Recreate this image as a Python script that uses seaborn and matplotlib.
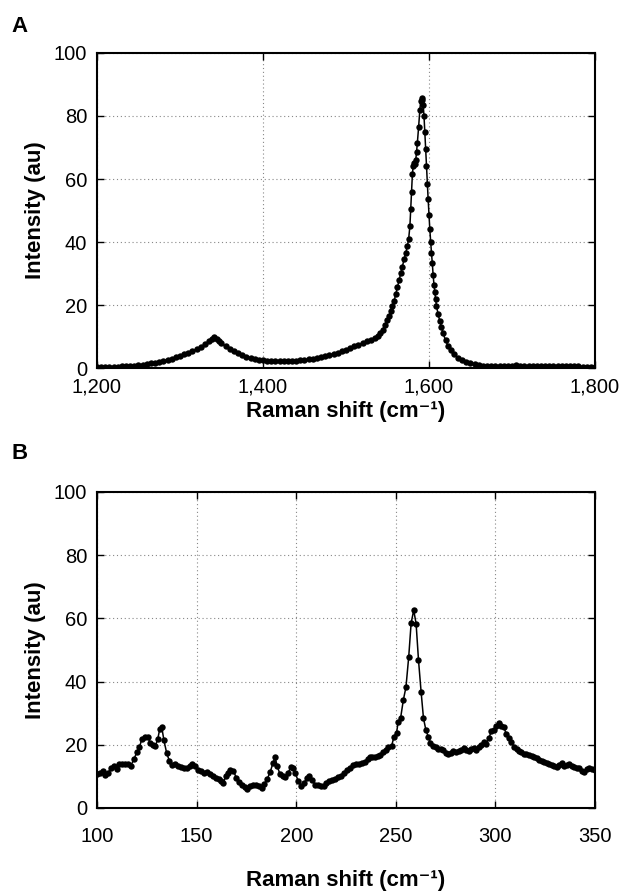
import numpy as np
import pandas as pd
import matplotlib
matplotlib.use("Agg")
import matplotlib.pyplot as plt
import seaborn as sns
from matplotlib.ticker import StrMethodFormatter

# Panel A: 1,200-1,800 cm-1 (D and G bands)
shift_a = [1200, 1205, 1210, 1215, 1220, 1225, 1230, 1235, 1240, 1245, 1250, 1255, 1260,
           1265, 1270, 1275, 1280, 1285, 1290, 1295, 1300, 1305, 1310, 1315, 1320, 1325,
           1330, 1335, 1338, 1341, 1344, 1347, 1350, 1355, 1360, 1365, 1370, 1375, 1380,
           1385, 1390, 1395, 1400, 1405, 1410, 1415, 1420, 1425, 1430, 1435, 1440, 1445,
           1450, 1455, 1460, 1465, 1470, 1475, 1480, 1485, 1490, 1495, 1500, 1505, 1510,
           1515, 1520, 1525, 1530, 1535, 1538, 1541, 1544, 1547, 1550, 1552, 1554, 1556,
           1558, 1560, 1562, 1564, 1566, 1568, 1570, 1572, 1574, 1575.5, 1577, 1578, 1579,
           1580, 1581, 1582, 1583, 1584, 1585, 1586, 1587.5, 1589, 1590, 1591, 1592, 1593,
           1594, 1595, 1596, 1597, 1598, 1599, 1600, 1601, 1602, 1603, 1604, 1605, 1606,
           1607, 1608, 1609, 1611, 1613, 1615, 1617, 1620, 1623, 1626, 1630, 1635, 1640,
           1645, 1650, 1655, 1660, 1665, 1670, 1675, 1680, 1685, 1690, 1695, 1700, 1705,
           1710, 1715, 1720, 1725, 1730, 1735, 1740, 1745, 1750, 1755, 1760, 1765, 1770,
           1775, 1780, 1785, 1790, 1795, 1800]
intensity_a = [0.2, 0.2, 0.3, 0.3, 0.4, 0.4, 0.5, 0.6, 0.7, 0.8, 0.9, 1.1, 1.3,
               1.5, 1.7, 2.0, 2.3, 2.6, 3.0, 3.4, 3.8, 4.3, 4.8, 5.4, 6.0, 6.7,
               7.5, 8.5, 9.1, 9.7, 9.2, 8.5, 7.8, 6.9, 6.1, 5.4, 4.7, 4.1, 3.6,
               3.2, 2.9, 2.6, 2.4, 2.3, 2.2, 2.1, 2.1, 2.1, 2.1, 2.2, 2.3, 2.4,
               2.6, 2.8, 3.0, 3.2, 3.4, 3.7, 4.0, 4.4, 4.9, 5.3, 5.8, 6.3, 6.9,
               7.4, 8.0, 8.5, 9.0, 9.6, 10.3, 11.1, 12.2, 13.6, 15.3, 16.6, 18.0, 19.6,
               21.3, 23.5, 25.8, 28.0, 30.2, 32.2, 34.5, 36.5, 38.8, 41.0, 45.0, 50.5, 56.0,
               61.5, 64.2, 65.2, 64.8, 66.0, 68.5, 71.5, 76.5, 82.0, 84.8, 85.8, 85.0, 83.5,
               80.0, 75.0, 69.5, 64.0, 58.5, 53.5, 48.5, 44.0, 40.0, 36.5, 33.3, 29.5, 26.5,
               24.0, 21.8, 19.8, 17.0, 15.0, 13.0, 11.0, 8.8, 7.0, 5.6, 4.3, 3.2, 2.5,
               2.0, 1.6, 1.2, 1.0, 0.8, 0.7, 0.6, 0.6, 0.6, 0.6, 0.7, 0.8, 1.1,
               0.8, 0.7, 0.6, 0.6, 0.7, 0.6, 0.7, 0.8, 0.7, 0.7, 0.6, 0.6, 0.5,
               0.5, 0.5, 0.4, 0.4, 0.3, 0.3]

# Panel B: 100-350 cm-1 (low-frequency region)
shift_b = [100, 101.5, 103, 104, 105.5, 107, 108.5, 110, 111, 112.5, 114, 115.5, 117,
           118.5, 120, 121.3, 122.5, 124, 125.5, 126.7, 128, 129.3, 130.5, 131.5, 132.5,
           133.6, 135, 136.3, 137.7, 139, 140.5, 142, 143.5, 145, 146.5, 147.7, 149, 150.5,
           152, 153.5, 155, 156.5, 158, 159.5, 161, 162.5, 163.5, 164.7, 166, 167, 168.5,
           170, 171.5, 173, 174.5, 175.5, 177, 178.5, 180, 181.5, 182.6, 184, 185.5, 187,
           188.3, 189.4, 190.5, 191.9, 193.3, 194.6, 196, 197.4, 198.4, 199.6, 201, 202.5,
           204, 205.2, 206.6, 208, 209.5, 211, 212.5, 213.8, 215.2, 216.6, 218, 219.5, 221,
           222.5, 224, 225.5, 227, 228.5, 230, 231.5, 233, 234.5, 235.8, 237, 238.3, 239.6,
           241, 242.3, 243.6, 245, 246.2, 247.9, 249.1, 250.4, 251.2, 252.4, 253.8, 255.1,
           256.5, 257.7, 259, 260.2, 261.4, 262.7, 263.9, 265.1, 266.3, 267.4, 268.7, 270,
           271.3, 272.6, 273.9, 275.1, 276.3, 277.6, 278.9, 280.2, 281.5, 282.8, 284, 285.3,
           286.6, 287.9, 289.1, 290.4, 291.7, 292.9, 294.2, 295.5, 296.7, 298, 299.2, 300.5,
           301.7, 303, 304.2, 305.5, 306.8, 308, 309.3, 310.6, 311.8, 313.1, 314.4, 315.6,
           316.9, 318.2, 319.4, 320.7, 322, 323.2, 324.5, 325.8, 327, 328.3, 329.6, 330.8,
           332.1, 333.3, 334.6, 335.9, 337.1, 338.4, 339.6, 340.9, 342.2, 343.4, 344.7, 346,
           347.2, 348.5, 350]
intensity_b = [10.8, 11.2, 11.8, 10.4, 11.0, 12.6, 13.2, 12.4, 13.8, 14.0, 13.8, 14.0, 13.4,
               15.4, 17.6, 19.2, 21.8, 22.6, 22.5, 20.6, 19.8, 19.6, 21.8, 25.0, 25.6,
               21.4, 17.3, 15.0, 13.6, 13.8, 13.4, 13.0, 12.8, 12.5, 13.4, 13.9, 13.4, 12.0,
               11.6, 11.2, 11.3, 10.6, 10.0, 9.6, 9.2, 8.6, 7.9, 10.2, 11.2, 12.0, 11.8,
               9.4, 8.2, 7.4, 6.5, 6.1, 7.0, 7.4, 7.3, 7.0, 6.4, 7.6, 9.2, 11.5,
               14.1, 16.0, 13.2, 10.6, 10.0, 9.9, 11.2, 13.0, 12.8, 11.0, 8.5, 7.1,
               7.8, 9.5, 10.1, 8.8, 7.4, 7.3, 6.8, 6.8, 7.8, 8.4, 8.8, 9.2, 9.8,
               10.2, 11.0, 12.0, 12.8, 13.5, 13.8, 13.9, 14.2, 14.6, 15.5, 16.0, 16.0, 16.2,
               16.4, 16.8, 17.6, 18.4, 19.4, 19.6, 22.6, 23.8, 27.3, 28.4, 34.2, 38.2,
               47.9, 58.5, 62.6, 58.3, 46.8, 36.8, 28.4, 24.7, 22.6, 20.6, 19.6, 19.2,
               18.7, 18.6, 18.2, 17.4, 17.0, 17.5, 18.0, 17.7, 18.0, 18.2, 19.0, 18.4,
               17.9, 18.6, 18.9, 18.3, 19.3, 20.0, 21.0, 20.4, 22.0, 24.4, 24.6, 26.0,
               27.0, 26.0, 25.6, 23.4, 22.2, 20.8, 19.4, 18.8, 18.1, 17.6, 17.2, 17.1,
               16.9, 16.6, 16.1, 15.7, 15.3, 14.9, 14.6, 14.2, 13.8, 13.6, 13.2, 13.1,
               13.6, 14.1, 13.4, 13.5, 13.8, 13.2, 12.9, 12.7, 12.8, 11.8, 11.3, 12.2,
               12.8, 12.3, 12.0]

sns.set_style("ticks")
plt.rcParams["font.family"] = ["Liberation Sans", "DejaVu Sans"]
plt.rcParams["text.color"] = "black"
plt.rcParams["axes.labelcolor"] = "black"

fig = plt.figure(figsize=(6.19, 8.92), dpi=100)
ax_a = fig.add_axes([0.1567, 0.5874, 0.8045, 0.3532])
ax_b = fig.add_axes([0.1567, 0.0942, 0.8045, 0.3543])

# (axes, x, y, xlim, xticks, x tick pad, xlabel pad)
panels = [
    (ax_a, shift_a, intensity_a, (1200, 1800), [1200, 1400, 1600, 1800], 7, 3),
    (ax_b, shift_b, intensity_b, (100, 350), [100, 150, 200, 250, 300, 350], 14, 17),
]

for ax, xs, ys, xlim, xticks, tpad, lpad in panels:
    df = pd.DataFrame({"shift": xs, "intensity": ys})
    sns.lineplot(data=df, x="shift", y="intensity", ax=ax, color="black",
                 linewidth=1.1, marker="o", markersize=4.6, markeredgewidth=0,
                 markerfacecolor="black")
    ax.set_xlim(*xlim)
    ax.set_ylim(0, 100)
    ax.set_xticks(xticks)
    ax.set_yticks([0, 20, 40, 60, 80, 100])
    ax.grid(True, linestyle=(0, (1, 2.5)), color="#888888", linewidth=0.8)
    ax.tick_params(direction="in", top=True, right=True, length=5, width=1,
                   labelsize=14.5, colors="black", pad=7)
    ax.tick_params(axis="x", pad=tpad)
    for s in ax.spines.values():
        s.set_linewidth(1.5)
        s.set_color("black")
    ax.set_xlabel("Raman shift (cm\u207b\u00b9)", fontsize=16, fontweight="bold",
                  labelpad=lpad)
    ax.set_ylabel("Intensity (au)", fontsize=16, fontweight="bold", labelpad=6)

ax_a.xaxis.set_major_formatter(StrMethodFormatter("{x:,.0f}"))

fig.text(0.019, 0.970, "A", fontsize=16, fontweight="bold", va="center", ha="left")
fig.text(0.019, 0.492, "B", fontsize=16, fontweight="bold", va="center", ha="left")

fig.savefig("out.png", dpi=100)
